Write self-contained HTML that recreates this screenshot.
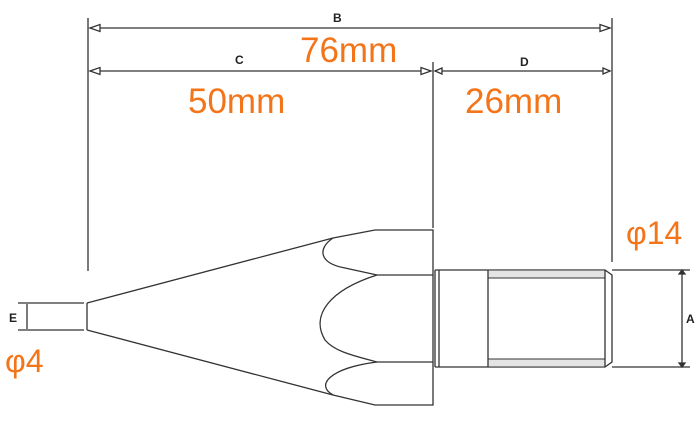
<!DOCTYPE html>
<html><head><style>
html,body{margin:0;padding:0;background:#fff;width:698px;height:422px;overflow:hidden}
svg{display:block}
.o{fill:#f47419;font-family:"Liberation Sans",sans-serif}
.l{font-family:"Liberation Sans",sans-serif;font-weight:bold;font-size:12px;fill:#222}
</style></head><body>
<svg width="698" height="422" viewBox="0 0 698 422" fill="none" stroke="#333" stroke-width="1.3">
<!-- extension lines -->
<line x1="88" y1="18" x2="88" y2="271"/>
<line x1="433" y1="62" x2="433" y2="228"/>
<line x1="612" y1="18" x2="612" y2="262"/>
<!-- dim lines -->
<line x1="90" y1="28" x2="610" y2="28"/>
<path d="M90 28 L100 24.5 L100 31.5 Z M610 28 L600 24.5 L600 31.5 Z" fill="#fff"/>
<line x1="90" y1="71" x2="431" y2="71"/>
<path d="M90 71 L100 67.5 L100 74.5 Z M431 71 L421 67.5 L421 74.5 Z" fill="#fff"/>
<line x1="435" y1="71" x2="610" y2="71"/>
<path d="M435 71 L442 68 L442 74 Z M610 71 L603 68 L603 74 Z" fill="#fff"/>
<!-- small shaft -->
<line x1="18" y1="303" x2="84" y2="303"/>
<line x1="18" y1="330" x2="84" y2="330"/>
<line x1="27" y1="304" x2="27" y2="329"/>
<!-- cone -->
<path d="M87 303 L87 330 M87 303 L333 238 L375 230 L433 230 L433 405 L375 405 L333 395 L87 330"/>
<path d="M333 238 C318 248 318 263 345 268 L377 275 L433 275"/>
<path d="M377 275 C330 290 310 315 325 340 C335 352 355 356 377 362 L433 362"/>
<path d="M377 362 C330 368 315 385 333 395"/>
<!-- threaded part -->
<path d="M435 270 L435 367 M439 270 L439 367 M435 270 L605 270 L612 275 L612 362 L605 367 L435 367"/>
<rect x="488" y="270" width="117" height="8" fill="#e4e4e4" stroke-width="1"/>
<rect x="488" y="359" width="117" height="8" fill="#e4e4e4" stroke-width="1"/>
<line x1="488" y1="270" x2="488" y2="367"/>
<line x1="605" y1="270" x2="605" y2="367"/>
<line x1="612" y1="270" x2="690" y2="270"/>
<line x1="612" y1="367" x2="690" y2="367"/>
<line x1="682" y1="272" x2="682" y2="365"/>
<path d="M682 270 L679 274 L685 274 Z M682 367 L679 363 L685 363 Z" fill="#333"/>
<g stroke="none">
<text class="l" x="333" y="22">B</text>
<text class="l" x="235" y="64">C</text>
<text class="l" x="520" y="66">D</text>
<text class="l" x="9" y="322">E</text>
<text class="l" x="686" y="323">A</text>
<text class="o" x="300" y="62" font-size="35">76mm</text>
<text class="o" x="188" y="113" font-size="35">50mm</text>
<text class="o" x="465" y="113" font-size="35">26mm</text>
<text class="o" x="626" y="244" font-size="32">φ14</text>
<text class="o" x="5" y="372" font-size="32">φ4</text>
</g>
</svg>
</body></html>
